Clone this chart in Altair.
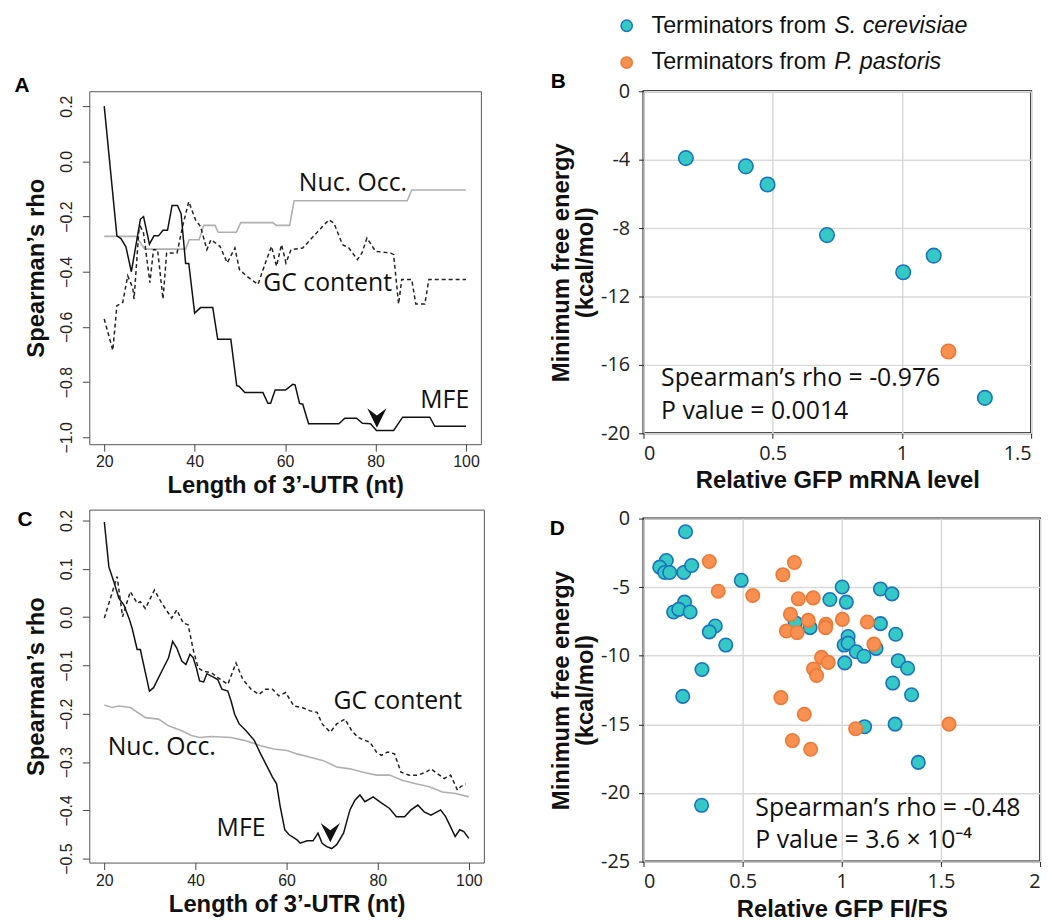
import altair as alt
import pandas as pd

# ---------------- Panel A (S. cerevisiae terminators, 3'-UTR scan) ----------------
A_MFE = [(20, 0.20), (22.8, -0.27), (23.7, -0.28), (24.8, -0.31), (26, -0.40), (28, -0.21),
         (28.7, -0.20), (30, -0.30), (31, -0.27), (32, -0.27), (33, -0.25), (34, -0.25),
         (35, -0.16), (36.2, -0.16), (37, -0.19), (38, -0.37), (38.7, -0.37), (40, -0.55),
         (41.3, -0.53), (44, -0.53), (45.1, -0.645), (48, -0.645), (49.3, -0.813), (49.8, -0.815),
         (51.1, -0.838), (55.1, -0.838), (56.2, -0.877), (56.8, -0.877), (57.8, -0.829),
         (60.1, -0.829), (61.7, -0.808), (62.2, -0.81), (63.2, -0.877), (63.9, -0.88),
         (65.2, -0.951), (71.9, -0.951), (73.2, -0.931), (75.8, -0.931), (77.1, -0.949),
         (78.9, -0.951), (80.2, -0.975), (84, -0.975), (86, -0.927), (92, -0.927),
         (93.1, -0.96), (100, -0.96)]
A_GC = [(20, -0.571), (21.9, -0.685), (22.8, -0.523), (24.1, -0.511), (25.2, -0.415),
        (26.3, -0.458), (26.6, -0.499), (27.7, -0.242), (28, -0.236), (28.7, -0.260),
        (30.1, -0.440), (30.9, -0.320), (31.8, -0.320), (33, -0.499), (33.8, -0.332),
        (36.1, -0.332), (37.5, -0.224), (38.7, -0.146), (40.2, -0.212), (41.3, -0.236),
        (42.7, -0.320), (43.6, -0.284), (45.6, -0.308), (47.2, -0.368), (48.9, -0.314),
        (49.9, -0.392), (51.5, -0.416), (54, -0.446), (55.9, -0.356), (57, -0.308),
        (58.1, -0.380), (59.2, -0.302), (60.2, -0.368), (61.3, -0.320), (63.9, -0.314),
        (67.6, -0.248), (69.7, -0.212), (70.8, -0.224), (72.7, -0.302), (74.1, -0.314),
        (76, -0.356), (77, -0.332), (78.1, -0.278), (80, -0.326), (83.3, -0.332),
        (84, -0.338), (85.1, -0.517), (85.8, -0.428), (88, -0.428), (88.9, -0.517),
        (90.9, -0.517), (91.8, -0.428), (100, -0.428)]
A_NUC = [(20, -0.272), (27, -0.272), (29, -0.318), (38, -0.318), (38.8, -0.284), (41, -0.284),
         (42, -0.232), (44.5, -0.232), (45.2, -0.257), (49.2, -0.257), (50.2, -0.222),
         (57.3, -0.222), (58, -0.232), (61, -0.232), (62, -0.143), (87, -0.143), (88, -0.104),
         (100, -0.104)]
A_LABELS = [("Nuc. Occ.", 75, -0.08), ("GC content", 69.4, -0.44), ("MFE", 95.3, -0.865)]
A_ARROW = (80.3, -0.93)
A_LETTER = ("A", 1.8, 0.272)

# ---------------- Panel C (P. pastoris terminators) ----------------
C_MFE = [(20, 0.197), (21, 0.104), (22.1, 0.073), (23.2, 0.039), (24.3, 0.025), (25.4, -0.002),
         (26.1, -0.023), (27.2, -0.067), (27.9, -0.067), (29.9, -0.153), (30.8, -0.146),
         (32.6, -0.112), (34.1, -0.084), (35, -0.05), (35.9, -0.064), (37, -0.091),
         (37.9, -0.098), (38.8, -0.077), (39.5, -0.084), (40.2, -0.105), (40.9, -0.132),
         (41.8, -0.134), (42.5, -0.117), (43.5, -0.122), (44.9, -0.129), (45.8, -0.149),
         (47.1, -0.153), (47.8, -0.173), (48.6, -0.201), (49.6, -0.221), (51.1, -0.235),
         (52.9, -0.255), (54.3, -0.283), (55.4, -0.303), (56.9, -0.331), (57.8, -0.345),
         (58.6, -0.392), (59.6, -0.44), (60.5, -0.45), (62.3, -0.461), (63, -0.468),
         (64.5, -0.463), (65.8, -0.463), (66.9, -0.447), (67.8, -0.468), (68.8, -0.475),
         (69.9, -0.479), (71, -0.471), (72.5, -0.447), (73.9, -0.399), (75, -0.379),
         (76.1, -0.368), (77.2, -0.382), (79, -0.372), (80.4, -0.382), (82.6, -0.396),
         (84.1, -0.413), (85.9, -0.413), (87.3, -0.399), (88.8, -0.389), (90.2, -0.403),
         (91.7, -0.41), (93.8, -0.399), (94.9, -0.413), (96, -0.434), (97, -0.454),
         (98, -0.44), (98.9, -0.444), (100, -0.458)]
C_GC = [(20, -0.002), (22.8, 0.084), (24, 0.001), (25.7, 0.053), (27.2, 0.029), (27.9, 0.032),
        (29, 0.018), (31, 0.056), (32.6, 0.029), (34.8, -0.002), (35.9, 0.015), (37.3, -0.012),
        (38.4, -0.016), (39.5, -0.067), (40.6, -0.105), (41.7, -0.112), (43.5, -0.115),
        (44.9, -0.125), (47.1, -0.139), (48.9, -0.095), (50.4, -0.129), (52.2, -0.149),
        (53.9, -0.16), (55.4, -0.149), (56.9, -0.149), (58.3, -0.163), (59.8, -0.156),
        (61.6, -0.184), (63.4, -0.187), (65.2, -0.194), (66.7, -0.197), (67.8, -0.221),
        (69.6, -0.238), (71, -0.221), (72.8, -0.211), (74.3, -0.235), (75.7, -0.249),
        (77.2, -0.255), (78.3, -0.259), (79.7, -0.279), (80.8, -0.286), (82.2, -0.279),
        (83.7, -0.283), (85.1, -0.321), (86.9, -0.327), (88.8, -0.327), (90.6, -0.321),
        (91.7, -0.314), (93.1, -0.324), (94.6, -0.334), (96, -0.327), (97.5, -0.358),
        (98.2, -0.351), (99.3, -0.345)]
C_NUC = [(20, -0.182), (21.7, -0.187), (23.2, -0.184), (25.7, -0.187), (29, -0.208),
         (31.9, -0.211), (34.1, -0.225), (37, -0.235), (39.1, -0.245), (40.9, -0.249),
         (43.5, -0.247), (47.8, -0.249), (50.7, -0.255), (54.3, -0.266), (57.2, -0.273),
         (60.1, -0.276), (62.3, -0.283), (65.2, -0.29), (68.1, -0.297), (71, -0.31),
         (73.9, -0.314), (76.8, -0.321), (79.7, -0.327), (82.6, -0.327), (85.5, -0.338),
         (88.4, -0.345), (91.3, -0.351), (94.2, -0.362), (97.1, -0.365), (100, -0.372)]
C_LABELS = [("GC content", 84.4, -0.173), ("Nuc. Occ.", 32.6, -0.269), ("MFE", 50, -0.437)]
C_ARROW = (69.6, -0.446)
C_LETTER = ("C", 2.6, 0.2)

# ---------------- Panel B (mRNA level vs MFE) ----------------
B_SC = [(0.164, -3.91), (0.396, -4.39), (0.48, -5.45), (0.71, -8.41), (1.005, -10.58),
        (1.123, -9.61), (1.321, -17.93)]
B_PP = [(1.18, -15.22)]
B_ANN = [("Spearman’s rho = -0.976", 0.068, -16.8), ("P value = 0.0014", 0.068, -18.72)]
B_LETTER = ("B", -0.33, 0.52)
LEGEND_PREFIX = "Terminators from"
LEGEND_SPECIES = ["S. cerevisiae", "P. pastoris"]
LEGEND_Y = [3.83, 1.68]

# ---------------- Panel D (fluorescence vs MFE) ----------------
D_SC = [(0.212, -0.96), (0.115, -3.06), (0.082, -3.54), (0.107, -3.93), (0.132, -3.93),
        (0.203, -3.93), (0.243, -3.42), (0.493, -4.5), (0.207, -6.09), (0.152, -6.81),
        (0.178, -6.62), (0.235, -6.81), (0.362, -7.83), (0.332, -8.26), (0.415, -9.22),
        (0.295, -11.0), (0.198, -12.96), (0.293, -20.9), (0.765, -7.59), (0.84, -7.95),
        (0.94, -5.9), (1.002, -4.99), (1.023, -6.09), (1.195, -5.13), (1.253, -5.49),
        (1.195, -7.66), (1.272, -8.43), (1.032, -8.6), (1.012, -9.22), (1.032, -9.08),
        (1.073, -9.71), (1.112, -10.04), (1.173, -9.46), (1.015, -10.52), (1.285, -10.36),
        (1.332, -10.91), (1.257, -11.99), (1.352, -12.84), (1.115, -15.17), (1.269, -14.98),
        (1.386, -17.77)]
D_PP = [(0.332, -3.13), (0.377, -5.3), (0.551, -5.61), (0.703, -4.09), (0.761, -3.2),
        (0.781, -5.85), (0.856, -5.78), (0.741, -6.98), (0.721, -8.19), (0.775, -8.31),
        (0.831, -7.42), (0.92, -7.71), (0.918, -7.95), (1.003, -7.35), (1.129, -7.54),
        (1.162, -9.15), (0.898, -10.12), (0.932, -10.48), (0.858, -10.96), (0.873, -11.44),
        (0.693, -13.05), (0.811, -14.26), (0.751, -16.18), (0.843, -16.81), (1.07, -15.32),
        (1.541, -14.98)]
D_ANN = [("Spearman’s rho = -0.48", 0.564, -21.07), ("P value = 3.6 × 10⁻⁴", 0.564, -23.41)]
D_LETTER = ("D", -0.435, -0.79)

# ---------------- styling ----------------
SC_FILL, SC_STROKE = "#35C9C6", "#1B72BE"
PP_FILL, PP_STROKE = "#F79050", "#EC7A36"
ARROW = "M-1,-1L0,-0.25L1,-1L0,1Z"
ARIAL = "Liberation Sans"
CALIBRI = "Open Sans"


def pts(pairs):
    return pd.DataFrame(pairs, columns=["x", "y"])


def txt(rows):
    return pd.DataFrame(rows, columns=["t", "x", "y"])


def line_panel(mfe, gc, nuc, labels, arrow, letter, xdom, ydom, yvals, w, h):
    xax = alt.Axis(values=[20, 40, 60, 80, 100], format="d", title="Length of 3’-UTR (nt)",
                   domain=False, grid=False, tickSize=7, tickColor="#444", labelPadding=3,
                   labelFont=ARIAL, labelFontSize=16, labelColor="#222",
                   titleFont=ARIAL, titleFontSize=24, titleFontWeight="bold", titleColor="#111",
                   titlePadding=4)
    yax = alt.Axis(values=yvals, format=".1f", title="Spearman’s rho", domain=False, grid=False,
                   tickSize=7, tickColor="#444", labelAngle=270, labelAlign="center",
                   labelBaseline="bottom", labelPadding=8, labelFont=ARIAL, labelFontSize=16,
                   labelColor="#222", titleFont=ARIAL, titleFontSize=24, titleFontWeight="bold",
                   titleColor="#111", titlePadding=10)
    xe = alt.X("x:Q", scale=alt.Scale(domain=xdom, nice=False, zero=False), axis=xax)
    ye = alt.Y("y:Q", scale=alt.Scale(domain=ydom, nice=False, zero=False), axis=yax)
    nuc_l = alt.Chart(pts(nuc)).mark_line(color="#B0B0B0", strokeWidth=1.6).encode(xe, ye)
    gc_l = alt.Chart(pts(gc)).mark_line(color="#222", strokeWidth=1.5,
                                        strokeDash=[4, 3]).encode(xe, ye)
    mfe_l = alt.Chart(pts(mfe)).mark_line(color="#111", strokeWidth=1.5).encode(xe, ye)
    lab = alt.Chart(txt(labels)).mark_text(font=CALIBRI, fontSize=25, color="#111",
                                           align="center", baseline="middle").encode(xe, ye, text="t:N")
    arr = alt.Chart(pts([arrow])).mark_point(shape=ARROW, size=380, filled=True, color="#111",
                                             opacity=1).encode(xe, ye)
    let = alt.Chart(txt([letter])).mark_text(font=ARIAL, fontSize=21, fontWeight="bold",
                                             color="#000", align="center",
                                             baseline="middle").encode(xe, ye, text="t:N")
    return alt.layer(nuc_l, gc_l, mfe_l, lab, arr, let).properties(
        width=w, height=h, view=alt.ViewBackground(stroke="#555", strokeWidth=1))


def scatter_panel(sc, pp, ann, letter, xdom, xvals, ydom, yvals, xtitle, w, h, size, legend=False):
    xax = alt.Axis(values=xvals, labelExpr="datum.value + ''", title=xtitle, domain=False,
                   grid=True, gridColor="#D9D9D9", gridWidth=1.5, tickSize=5, tickColor="#222",
                   labelPadding=5, labelFont=CALIBRI, labelFontSize=20, labelColor="#222",
                   titleFont=ARIAL, titleFontSize=24, titleFontWeight="bold", titleColor="#111",
                   titlePadding=6)
    yax = alt.Axis(values=yvals, labelExpr="datum.value + ''",
                   title=["Minimum free energy", "(kcal/mol)"], domain=False, grid=True,
                   gridColor="#D9D9D9", gridWidth=1.5, tickSize=5, tickColor="#222",
                   labelPadding=9, labelFont=CALIBRI, labelFontSize=20, labelColor="#222",
                   titleFont=ARIAL, titleFontSize=24, titleFontWeight="bold", titleColor="#111",
                   titleLineHeight=24, titlePadding=3)
    xe = alt.X("x:Q", scale=alt.Scale(domain=xdom, nice=False, zero=False), axis=xax)
    ye = alt.Y("y:Q", scale=alt.Scale(domain=ydom, nice=False, zero=False), axis=yax)
    layers = [
        alt.Chart(pts(sc)).mark_circle(size=size, fill=SC_FILL, stroke=SC_STROKE, strokeWidth=1.6,
                                       opacity=1).encode(xe, ye),
        alt.Chart(pts(pp)).mark_circle(size=size, fill=PP_FILL, stroke=PP_STROKE, strokeWidth=1.6,
                                       opacity=1).encode(xe, ye),
        alt.Chart(txt(ann)).mark_text(font=CALIBRI, fontSize=25, color="#111", align="left",
                                      baseline="middle").encode(xe, ye, text="t:N"),
        alt.Chart(txt([letter])).mark_text(font=ARIAL, fontSize=21, fontWeight="bold",
                                           color="#000", align="center",
                                           baseline="middle").encode(xe, ye, text="t:N"),
    ]
    if legend:
        leg_sym_sc = alt.Chart(pts([(-0.065, LEGEND_Y[0])])).mark_circle(
            size=130, fill=SC_FILL, stroke=SC_STROKE, strokeWidth=1.5, opacity=1).encode(xe, ye)
        leg_sym_pp = alt.Chart(pts([(-0.065, LEGEND_Y[1])])).mark_circle(
            size=130, fill=PP_FILL, stroke=PP_STROKE, strokeWidth=1.5, opacity=1).encode(xe, ye)
        leg_pre = alt.Chart(txt([(LEGEND_PREFIX, 0.031, y) for y in LEGEND_Y])).mark_text(
            font=ARIAL, fontSize=23.5, color="#111", align="left", baseline="middle"
        ).encode(xe, ye, text="t:N")
        leg_sp = alt.Chart(txt([(s, 0.738, y) for s, y in zip(LEGEND_SPECIES, LEGEND_Y)])).mark_text(
            font=ARIAL, fontSize=23.5, fontStyle="italic", color="#111", align="left",
            baseline="middle").encode(xe, ye, text="t:N")
        layers += [leg_sym_sc, leg_sym_pp, leg_pre, leg_sp]
    return alt.layer(*layers).properties(
        width=w, height=h, view=alt.ViewBackground(stroke="#111", strokeWidth=2))


panel_a = line_panel(A_MFE, A_GC, A_NUC, A_LABELS, A_ARROW, A_LETTER, [16.7, 103.3],
                     [-1.025, 0.254], [-1.0, -0.8, -0.6, -0.4, -0.2, 0.0, 0.2], 395, 356)
panel_c = line_panel(C_MFE, C_GC, C_NUC, C_LABELS, C_ARROW, C_LETTER, [16.7, 103.3],
                     [-0.508, 0.2226], [-0.5, -0.4, -0.3, -0.2, -0.1, 0.0, 0.1, 0.2], 398, 356)
panel_b = scatter_panel(B_SC, B_PP, B_ANN, B_LETTER, [0, 1.5], [0, 0.5, 1, 1.5], [-20, 0],
                        [0, -4, -8, -12, -16, -20], "Relative GFP mRNA level", 391, 345, 215,
                        legend=True)
panel_d = scatter_panel(D_SC, D_PP, D_ANN, D_LETTER, [0, 2], [0, 0.5, 1, 1.5, 2], [-25, 0],
                        [0, -5, -10, -15, -20, -25], "Relative GFP FI/FS", 400, 346, 185)

left = alt.vconcat(panel_a, panel_c, spacing=66, bounds="flush")
right = alt.vconcat(panel_b, panel_d, spacing=86, bounds="flush")
chart = alt.hconcat(left, right, spacing=64).properties(
    padding={"left": 5, "right": 5, "top": 0, "bottom": 0}
).configure(background="white")

chart.save("out.html", embed_options={"renderer": "svg", "actions": False})
